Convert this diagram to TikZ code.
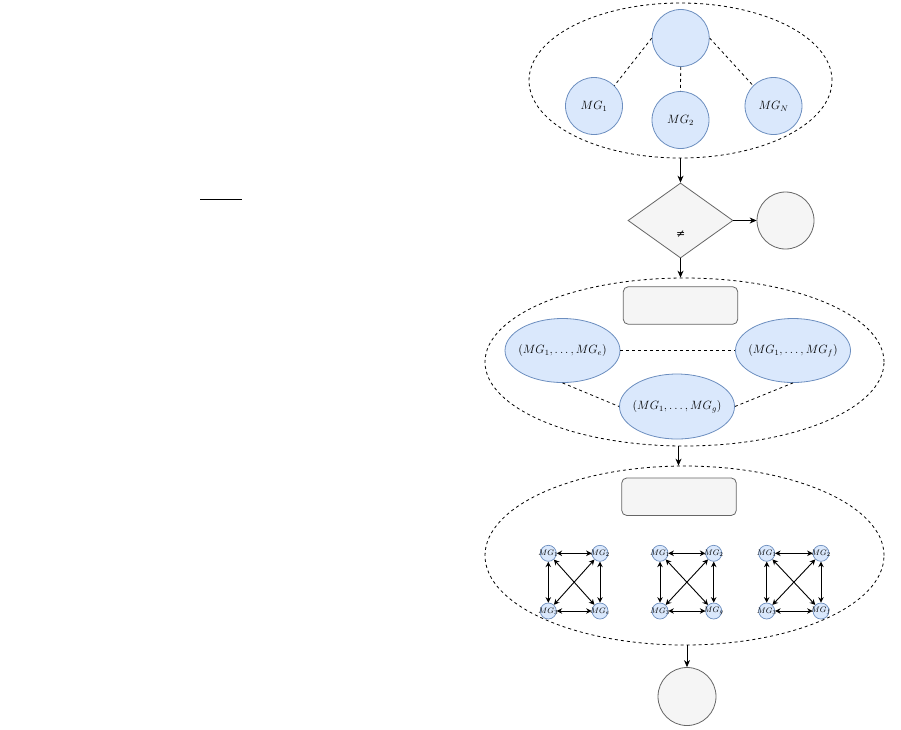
\documentclass[tikz,border=0pt]{standalone}
\usepackage{fontspec}
\newfontfamily\symfont{DejaVu Serif}
\usetikzlibrary{shapes.geometric,arrows.meta}
\definecolor{bfill}{HTML}{DAE8FC}
\definecolor{bstroke}{HTML}{6C8EBF}
\definecolor{gfill}{HTML}{F5F5F5}
\definecolor{gstroke}{HTML}{666666}
\tikzset{
  big/.style={circle, draw=bstroke, fill=bfill, minimum size=57pt, inner sep=0pt, line width=0.8pt, font=\fontsize{12}{14}\selectfont},
  sm/.style={circle, draw=bstroke, fill=bfill, minimum size=16pt, inner sep=-4pt, line width=0.7pt, font=\fontsize{8}{9}\selectfont},
  oval/.style={ellipse, draw=bstroke, fill=bfill, minimum width=115pt, minimum height=64pt, inner xsep=-8pt, inner ysep=0pt, line width=0.8pt, font=\fontsize{12}{14}\selectfont},
  grp/.style={ellipse, draw=black, dash pattern=on 3pt off 3pt, line width=0.8pt, inner sep=0pt},
  gcirc/.style={circle, draw=gstroke, fill=gfill, inner sep=0pt, line width=0.8pt},
  gbox/.style={rectangle, rounded corners=5pt, draw=gstroke, fill=gfill, minimum width=114.5pt, minimum height=37.5pt, inner sep=0pt, line width=0.8pt},
  arr/.style={draw=black, line width=0.8pt, -{Stealth[length=7pt,width=6pt]}},
  dedge/.style={draw=black, dash pattern=on 3pt off 3pt, line width=0.8pt},
  barr/.style={draw=black, line width=0.9pt, {Stealth[length=5.5pt,width=5.5pt]}-{Stealth[length=5.5pt,width=5.5pt]}}
}
\begin{document}
\begin{tikzpicture}[x=1pt,y=-1pt]
\useasboundingbox (0,0) rectangle (901,729);
% stray line
\coordinate (la) at (200,199.3);
\coordinate (lb) at (242,199.3);
\draw[line width=0.9pt] (la) -- (lb);

% group 1
\node[grp, minimum width=303pt, minimum height=155pt] (grp1) at (680.5,80.5) {};
\node[big] (root) at (680.7,38) {};
\node[big] (mg1) at (594,106) {$MG_1$};
\node[big] (mg2) at (680.5,120) {$MG_2$};
\node[big] (mgN) at (773.5,106) {$MG_N$};
\draw[dedge] (root.west) -- (mg1.45);
\draw[dedge] (root.south) -- (mg2.north);
\draw[dedge] (root.east) -- (mgN.135);

% decision
\node[diamond, draw=gstroke, fill=gfill, line width=0.8pt, minimum width=105pt, minimum height=75pt, inner sep=0pt] (dec) at (680.5,220.5) {};
\node[font=\fontsize{11}{13}\symfont, inner sep=1pt] (neq) at (680.7,234.5) {≠};
\node[gcirc, minimum size=57pt] (endA) at (785.5,220.5) {};
\draw[arr] (grp1.south) -- (dec.north);
\draw[arr] (dec.east) -- (endA.west);

% group 2
\node[grp, minimum width=399pt, minimum height=168pt] (grp2) at (684.5,362) {};
\node[gbox] (box2) at (680.5,305.5) {};
\node[oval] (ve) at (562.5,350.5) {$(MG_1,\ldots,MG_e)$};
\node[oval] (vf) at (793,350.5) {$(MG_1,\ldots,MG_f)$};
\node[oval, minimum height=65pt] (vg) at (677,406.5) {$(MG_1,\ldots,MG_g)$};
\draw[dedge] (ve.east) -- (vf.west);
\draw[dedge] (ve.south) -- (vg.west);
\draw[dedge] (vg.east) -- (vf.south);
\draw[arr] (dec.south) -- (dec.south |- grp2.north);

% group 3
\node[grp, minimum width=399pt, minimum height=179pt] (grp3) at (684.5,555.5) {};
\node[gbox] (box3) at (679,496.7) {};
\draw[arr] (grp2.south -| 678.5,0) -- (grp3.north -| 678.5,0);

% graph e
\node[sm] (a1) at (548.3,553.3) {$MG_1$};
\node[sm] (a2) at (600,553.3) {$MG_2$};
\node[sm] (a3) at (548.3,611) {$MG_3$};
\node[sm] (a4) at (600,611) {$MG_e$};
% graph g
\node[sm] (b1) at (660,553.3) {$MG_1$};
\node[sm] (b2) at (713.7,553.3) {$MG_2$};
\node[sm] (b3) at (660,611) {$MG_3$};
\node[sm] (b4) at (713.7,611) {$MG_g$};
% graph f
\node[sm] (c1) at (766.7,553.3) {$MG_1$};
\node[sm] (c2) at (821,553.3) {$MG_2$};
\node[sm] (c3) at (766.7,611) {$MG_3$};
\node[sm] (c4) at (821,611) {$MG_f$};
\foreach \g in {a,b,c}{
  \draw[barr] (\g1) -- (\g2);
  \draw[barr] (\g3) -- (\g4);
  \draw[barr] (\g1) -- (\g3);
  \draw[barr] (\g2) -- (\g4);
  \draw[barr] (\g1) -- (\g4);
  \draw[barr] (\g2) -- (\g3);
}

% final
\node[gcirc, minimum size=58pt] (endB) at (687,696.5) {};
\draw[arr] (grp3.south -| endB.north) -- (endB.north);
\end{tikzpicture}
\end{document}
